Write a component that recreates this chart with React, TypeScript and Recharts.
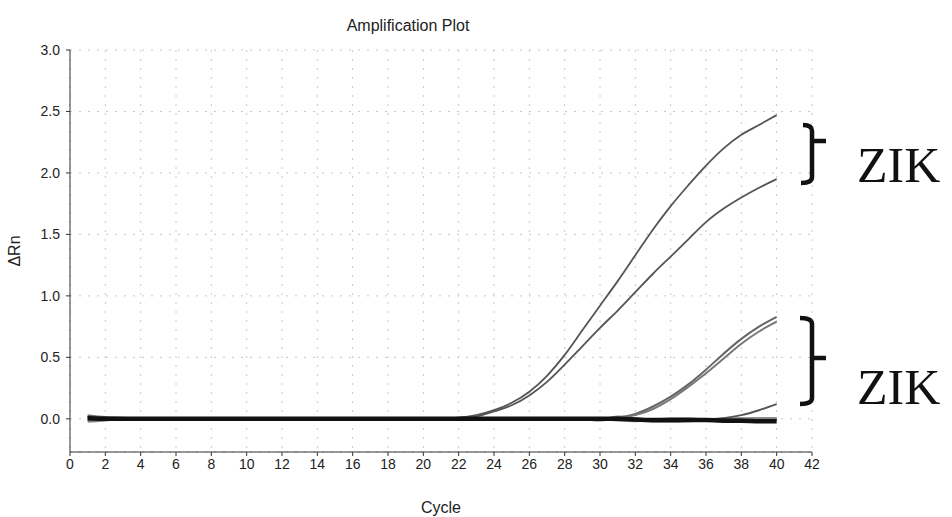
import { CartesianGrid, Line, LineChart, XAxis, YAxis } from 'recharts';

// qPCR amplification plot (ΔRn vs cycle)
const cycles = [
  1, 2, 3, 4, 5, 6, 7, 8, 9, 10,
  11, 12, 13, 14, 15, 16, 17, 18, 19, 20,
  21, 22, 23, 24, 25, 26, 27, 28, 29, 30,
  31, 32, 33, 34, 35, 36, 37, 38, 39, 40,
];

const highA = [
  0.02, 0.01, 0, 0, 0, 0, 0, 0, 0, 0,
  0, 0, 0, 0, 0, 0, 0, 0, 0, 0,
  0.005, 0.01, 0.03, 0.07, 0.13, 0.22, 0.35, 0.52, 0.72, 0.92,
  1.12, 1.33, 1.54, 1.73, 1.9, 2.06, 2.2, 2.31, 2.39, 2.47,
];
const highB = [
  0.01, 0.01, 0, 0, 0, 0, 0, 0, 0, 0,
  0, 0, 0, 0, 0, 0, 0, 0, 0, 0,
  0.004, 0.01, 0.02, 0.06, 0.11, 0.19, 0.3, 0.44, 0.59, 0.74,
  0.88, 1.03, 1.18, 1.32, 1.46, 1.6, 1.71, 1.8, 1.88, 1.95,
];
const lowC = [
  0.01, 0, 0, 0, 0, 0, 0, 0, 0, 0,
  0, 0, 0, 0, 0, 0, 0, 0, 0, 0,
  0, 0, 0, 0, 0, 0, 0, 0, 0, 0,
  0.01, 0.04, 0.1, 0.18, 0.28, 0.4, 0.53, 0.65, 0.75, 0.83,
];
const lowD = [
  -0.01, 0, 0, 0, 0, 0, 0, 0, 0, 0,
  0, 0, 0, 0, 0, 0, 0, 0, 0, 0,
  0, 0, 0, 0, 0, 0, 0, 0, 0, 0,
  0.005, 0.03, 0.08, 0.16, 0.26, 0.37, 0.49, 0.61, 0.71, 0.79,
];
const lateE = [
  0.015, 0.005, 0, 0, 0, 0, 0, 0, 0, 0,
  0, 0, 0, 0, 0, 0, 0, 0, 0, 0,
  0, 0, 0, 0, 0, 0, 0, 0, 0, 0,
  0, 0, -0.005, -0.01, -0.01, -0.01, 0.005, 0.03, 0.07, 0.12,
];
const flatF = [
  0.005, 0, 0, 0, 0, 0, 0, 0, 0, 0,
  0, 0, 0, 0, 0, 0, 0, 0, 0, 0,
  0, 0, 0, 0, 0, 0, 0, 0, 0, 0,
  0, -0.005, -0.01, -0.01, -0.01, -0.01, -0.015, -0.015, -0.02, -0.02,
];
const noiseG = [
  0.025, 0.01, 0.005, 0, 0, 0, 0, 0, 0, 0,
  0, 0, 0, 0, 0, 0, 0, 0, 0, 0,
  0, 0, 0, 0, 0, 0, 0, 0, 0, -0.01,
  0.015, 0, -0.02, -0.02, -0.015, -0.01, 0, 0, 0, 0,
];
const noiseH = [
  -0.02, -0.01, 0, 0, 0, 0, 0, 0, 0, 0,
  0, 0, 0, 0, 0, 0, 0, 0, 0, 0,
  0, 0, 0, 0, 0, 0, 0, 0, 0, 0,
  -0.01, -0.015, -0.01, 0, 0, -0.01, -0.02, -0.01, 0, 0,
];

const xTicks = [0, 2, 4, 6, 8, 10, 12, 14, 16, 18, 20, 22, 24, 26, 28, 30, 32, 34, 36, 38, 40, 42];
const yTicks = [0, 0.5, 1, 1.5, 2, 2.5, 3];

const rows = cycles.map((c, i) => ({
  cycle: c,
  a: highA[i],
  b: highB[i],
  c: lowC[i],
  d: lowD[i],
  e: lateE[i],
  f: flatF[i],
  g: noiseG[i],
  h: noiseH[i],
}));

const narrow = "'Liberation Sans Narrow', 'Arial Narrow', 'Liberation Sans', Arial, sans-serif";
const tick = { fontSize: 14, fill: '#222', fontFamily: narrow };

export default function App() {
  return (
    <div style={{ position: 'absolute', left: 0, top: 0, width: 952, height: 517, background: '#fff' }}>
      <LineChart width={952} height={517} data={rows} margin={{ top: 50, right: 140, bottom: 0, left: 0 }}>
        <CartesianGrid stroke="#c8c8c8" strokeDasharray="2 7" />
        <XAxis
          dataKey="cycle"
          type="number"
          domain={[0, 42]}
          ticks={xTicks}
          height={65}
          tick={tick}
          tickSize={4}
          tickMargin={3}
          stroke="#333"
          label={{ value: 'Cycle', position: 'insideBottom', offset: 4, style: { fontSize: 16, fill: '#222', fontFamily: narrow } }}
        />
        <YAxis
          type="number"
          domain={[-0.27, 3]}
          ticks={yTicks}
          width={70}
          tick={tick}
          tickSize={4}
          tickMargin={6}
          tickFormatter={(v: number) => v.toFixed(1)}
          stroke="#333"
          allowDataOverflow
          label={{ value: 'ΔRn', angle: -90, position: 'insideLeft', offset: 14, style: { fontSize: 16, fill: '#222', fontFamily: narrow, textAnchor: 'middle' } }}
        />
        <Line dataKey="g" type="monotone" stroke="#777" strokeWidth={3} dot={false} isAnimationActive={false} />
        <Line dataKey="h" type="monotone" stroke="#888" strokeWidth={3} dot={false} isAnimationActive={false} />
        <Line dataKey="e" type="monotone" stroke="#555" strokeWidth={2} dot={false} isAnimationActive={false} />
        <Line dataKey="c" type="monotone" stroke="#666" strokeWidth={2} dot={false} isAnimationActive={false} />
        <Line dataKey="d" type="monotone" stroke="#777" strokeWidth={2} dot={false} isAnimationActive={false} />
        <Line dataKey="b" type="monotone" stroke="#555" strokeWidth={1.8} dot={false} isAnimationActive={false} />
        <Line dataKey="a" type="monotone" stroke="#555" strokeWidth={1.8} dot={false} isAnimationActive={false} />
        <Line dataKey="f" type="monotone" stroke="#111" strokeWidth={4.5} dot={false} isAnimationActive={false} />
      </LineChart>
      <svg width={952} height={517} style={{ position: 'absolute', left: 0, top: 0, pointerEvents: 'none' }}>
        <text x={408} y={31} textAnchor="middle" fontSize={16} fill="#222" fontFamily={narrow}>
          Amplification Plot
        </text>
        <g fill="none" stroke="#111" strokeWidth={4.5}>
          <path d="M 803 125 Q 812 125 812 131 L 812 177 Q 812 183 801 183" />
          <path d="M 812 141 L 826 141" />
          <path d="M 800 318 Q 812 318 812 324 L 812 398 Q 812 404 800 404" />
          <path d="M 812 358 L 826 358" />
        </g>
        <text x={857} y={182} fontSize={50} fill="#111" fontFamily="'Liberation Serif', 'DejaVu Serif', serif">
          ZIK
        </text>
        <text x={857} y={404} fontSize={50} fill="#111" fontFamily="'Liberation Serif', 'DejaVu Serif', serif">
          ZIK
        </text>
      </svg>
    </div>
  );
}
